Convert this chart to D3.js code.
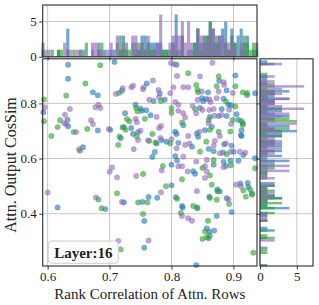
<!DOCTYPE html>
<html>
<head>
<meta charset="utf-8">
<script src="https://cdn.jsdelivr.net/npm/d3@7"></script>
<style>
  body { margin: 0; background: #fff; }
  svg { display: block; }
  text { font-family: "Liberation Serif", "DejaVu Serif", serif; fill: #222; }
</style>
</head>
<body>
<div id="chart"></div>
<script>
// [x, y] = [rank correlation, output cos sim]
var bluePts = [
  [0.633,0.940],[0.708,0.950],[0.633,0.889],[0.673,0.840],[0.681,0.829],[0.720,0.846],[0.760,0.872],
  [0.593,0.768],[0.632,0.741],[0.633,0.717],[0.681,0.702],[0.701,0.704],[0.657,0.641],[0.718,0.674],
  [0.723,0.714],[0.735,0.711],[0.725,0.764],[0.742,0.795],[0.750,0.781],[0.752,0.773],[0.759,0.775],
  [0.738,0.689],[0.746,0.696],[0.766,0.757],[0.776,0.655],[0.773,0.624],[0.769,0.606],[0.771,0.809],
  [0.781,0.836],[0.808,0.940],[0.877,0.882],[0.903,0.901],[0.859,0.840],[0.889,0.847],[0.922,0.830],
  [0.935,0.837],[0.849,0.819],[0.851,0.809],[0.856,0.816],[0.884,0.817],[0.892,0.795],[0.896,0.793],
  [0.789,0.813],[0.846,0.783],[0.881,0.779],[0.819,0.721],[0.862,0.751],[0.876,0.754],[0.889,0.754],
  [0.905,0.761],[0.908,0.740],[0.915,0.728],[0.912,0.685],[0.865,0.715],[0.854,0.703],[0.806,0.697],
  [0.808,0.689],[0.841,0.691],[0.843,0.679],[0.784,0.667],[0.792,0.661],[0.811,0.657],[0.833,0.643],
  [0.885,0.652],[0.897,0.647],[0.860,0.635],[0.868,0.627],[0.883,0.622],[0.900,0.625],[0.806,0.609],
  [0.809,0.594],[0.884,0.588],[0.895,0.592],[0.908,0.592],[0.800,0.578],[0.868,0.578],[0.888,0.573],
  [0.835,0.554],[0.838,0.545],[0.800,0.503],[0.874,0.488],[0.878,0.481],[0.923,0.512],[0.924,0.497],
  [0.807,0.460],[0.861,0.462],[0.889,0.456],[0.817,0.428],[0.897,0.406],[0.777,0.458],[0.763,0.461],
  [0.753,0.443],[0.818,0.423],[0.841,0.423],[0.857,0.347],[0.861,0.335],[0.869,0.339],[0.860,0.311],
  [0.756,0.374],[0.756,0.277],[0.840,0.214],[0.616,0.423],[0.723,0.441],[0.693,0.417],[0.913,0.703],
  [0.913,0.682],[0.916,0.613],[0.935,0.601],[0.911,0.510],[0.930,0.474],[0.873,0.392]
];
var purplePts = [
  [0.710,0.834],[0.721,0.855],[0.735,0.858],[0.738,0.864],[0.754,0.851],[0.755,0.858],[0.770,0.883],
  [0.779,0.849],[0.780,0.822],[0.595,0.786],[0.636,0.780],[0.628,0.759],[0.677,0.786],[0.682,0.795],
  [0.685,0.783],[0.627,0.728],[0.630,0.725],[0.670,0.739],[0.673,0.725],[0.699,0.707],[0.646,0.696],
  [0.651,0.634],[0.742,0.744],[0.744,0.732],[0.750,0.701],[0.746,0.667],[0.776,0.751],[0.762,0.666],
  [0.780,0.711],[0.783,0.718],[0.739,0.634],[0.782,0.675],[0.764,0.813],[0.799,0.946],[0.804,0.942],
  [0.866,0.947],[0.809,0.899],[0.846,0.898],[0.884,0.877],[0.885,0.867],[0.803,0.858],[0.819,0.859],
  [0.827,0.858],[0.849,0.843],[0.876,0.843],[0.899,0.838],[0.798,0.837],[0.806,0.805],[0.811,0.795],
  [0.842,0.812],[0.861,0.814],[0.863,0.805],[0.873,0.819],[0.834,0.791],[0.850,0.776],[0.861,0.776],
  [0.868,0.780],[0.811,0.773],[0.893,0.777],[0.819,0.764],[0.822,0.749],[0.840,0.764],[0.869,0.755],
  [0.881,0.758],[0.896,0.725],[0.860,0.728],[0.878,0.682],[0.827,0.682],[0.845,0.697],[0.800,0.670],
  [0.808,0.637],[0.829,0.655],[0.822,0.649],[0.870,0.664],[0.868,0.647],[0.888,0.655],[0.878,0.619],
  [0.895,0.625],[0.910,0.625],[0.919,0.621],[0.819,0.607],[0.840,0.589],[0.857,0.595],[0.784,0.557],
  [0.811,0.572],[0.817,0.572],[0.854,0.572],[0.884,0.569],[0.826,0.553],[0.857,0.553],[0.854,0.530],
  [0.904,0.505],[0.912,0.500],[0.783,0.478],[0.892,0.452],[0.743,0.537],[0.841,0.482],[0.817,0.392],
  [0.827,0.384],[0.833,0.375],[0.763,0.303],[0.700,0.552],[0.704,0.568],[0.712,0.532],[0.720,0.443],
  [0.678,0.459],[0.600,0.477],[0.714,0.302]
];
var greenPts = [
  [0.685,0.938],[0.661,0.872],[0.630,0.828],[0.715,0.838],[0.594,0.814],[0.594,0.735],[0.620,0.739],
  [0.616,0.714],[0.664,0.707],[0.606,0.682],[0.642,0.696],[0.652,0.628],[0.714,0.649],[0.716,0.680],
  [0.721,0.713],[0.726,0.704],[0.728,0.743],[0.732,0.735],[0.743,0.783],[0.745,0.771],[0.757,0.744],
  [0.744,0.680],[0.769,0.689],[0.764,0.664],[0.774,0.658],[0.783,0.809],[0.827,0.909],[0.876,0.898],
  [0.903,0.862],[0.840,0.867],[0.842,0.849],[0.843,0.840],[0.873,0.862],[0.915,0.840],[0.888,0.807],
  [0.903,0.789],[0.838,0.779],[0.800,0.783],[0.800,0.766],[0.817,0.731],[0.899,0.740],[0.895,0.698],
  [0.860,0.740],[0.862,0.704],[0.876,0.697],[0.798,0.655],[0.856,0.661],[0.889,0.616],[0.846,0.625],
  [0.868,0.595],[0.786,0.573],[0.850,0.566],[0.896,0.576],[0.862,0.539],[0.791,0.500],[0.865,0.505],
  [0.874,0.481],[0.916,0.484],[0.927,0.488],[0.930,0.469],[0.862,0.457],[0.893,0.435],[0.873,0.451],
  [0.920,0.462],[0.835,0.428],[0.842,0.420],[0.815,0.403],[0.754,0.544],[0.817,0.525],[0.761,0.441],
  [0.746,0.441],[0.809,0.454],[0.754,0.399],[0.859,0.375],[0.854,0.336],[0.850,0.309],[0.857,0.315],
  [0.862,0.321],[0.712,0.474],[0.682,0.452],[0.687,0.420],[0.718,0.271],[0.913,0.736],[0.915,0.722],
  [0.922,0.838],[0.935,0.565],[0.932,0.259]
];
var seriesColors = ["#1f77b4", "#2ca02c", "#9467bd"];
var xTicks = [0.6, 0.7, 0.8, 0.9];
var yTicks = [0.4, 0.6, 0.8];
var countTicks = [0, 5];
var layerLabel = "Layer:16";
var xLabel = "Rank Correlation of Attn. Rows";
var yLabel = "Attn. Output CosSim";

function init() {
    var w = 319, h = 305;
    var series = [bluePts, greenPts, purplePts];

    var svg = d3.select("#chart").append("svg")
        .attr("width", w)
        .attr("height", h);

    // main scatter area
    var x = d3.scaleLinear().domain([0.592, 0.938]).range([42.7, 257]);
    var y = d3.scaleLinear().domain([0.2108, 0.9615]).range([266, 58.8]);
    // marginal count scales
    var topY = d3.scaleLinear().domain([0, 7.34]).range([56.8, 5]);
    var rightX = d3.scaleLinear().domain([0, 7.2]).range([260, 313]);

    var gridColor = "#b8b8b8";

    // grids
    var grid = svg.append("g").attr("stroke", gridColor).attr("stroke-width", 0.8);
    xTicks.forEach(function(t) {
        grid.append("line").attr("x1", x(t)).attr("x2", x(t)).attr("y1", y.range()[0]).attr("y2", y.range()[1]);
        grid.append("line").attr("x1", x(t)).attr("x2", x(t)).attr("y1", topY.range()[0]).attr("y2", topY.range()[1]);
    });
    yTicks.forEach(function(t) {
        grid.append("line").attr("x1", x.range()[0]).attr("x2", x.range()[1]).attr("y1", y(t)).attr("y2", y(t));
        grid.append("line").attr("x1", rightX.range()[0]).attr("x2", rightX.range()[1]).attr("y1", y(t)).attr("y2", y(t));
    });
    countTicks.forEach(function(t) {
        grid.append("line").attr("x1", x.range()[0]).attr("x2", x.range()[1]).attr("y1", topY(t)).attr("y2", topY(t));
        grid.append("line").attr("x1", rightX(t)).attr("x2", rightX(t)).attr("y1", y.range()[0]).attr("y2", y.range()[1]);
    });

    // marginal histograms
    var xBin = d3.bin().domain([0.59, 0.94]).thresholds(d3.range(0.59, 0.94, 0.005));
    var yBin = d3.bin().domain([0.2, 0.97]).thresholds(d3.range(0.2, 0.97, 0.009));

    series.forEach(function(pts, i) {
        var bx = xBin(pts.map(function(d) { return d[0]; }));
        svg.append("g").selectAll("rect")
            .data(bx.filter(function(b) { return b.length > 0; }))
            .enter()
            .append("rect")
            .attr("x", function(b) { return x(b.x0); })
            .attr("width", function(b) { return x(b.x1) - x(b.x0); })
            .attr("y", function(b) { return topY(b.length); })
            .attr("height", function(b) { return topY(0) - topY(b.length); })
            .attr("fill", seriesColors[i])
            .attr("fill-opacity", 0.65);

        var by = yBin(pts.map(function(d) { return d[1]; }));
        svg.append("g").selectAll("rect")
            .data(by.filter(function(b) { return b.length > 0; }))
            .enter()
            .append("rect")
            .attr("x", rightX(0))
            .attr("width", function(b) { return rightX(b.length) - rightX(0); })
            .attr("y", function(b) { return y(b.x1); })
            .attr("height", function(b) { return y(b.x0) - y(b.x1); })
            .attr("fill", seriesColors[i])
            .attr("fill-opacity", 0.65);
    });

    // scatter
    series.forEach(function(pts, i) {
        svg.append("g").selectAll("circle")
            .data(pts)
            .enter()
            .append("circle")
            .attr("cx", function(d) { return x(d[0]); })
            .attr("cy", function(d) { return y(d[1]); })
            .attr("r", 2.7)
            .attr("fill", seriesColors[i])
            .attr("fill-opacity", 0.6)
            .attr("stroke", seriesColors[i])
            .attr("stroke-opacity", 0.35)
            .attr("stroke-width", 0.8);
    });

    // axes
    function styleAxis(g) {
        g.select(".domain").remove();
        g.selectAll(".tick line").attr("stroke", "#222").attr("stroke-width", 0.9);
        g.selectAll(".tick text").style("font-size", "13px").attr("fill", "#222");
    }
    var fmt = d3.format(".1f");

    svg.append("g").attr("transform", "translate(0," + y.range()[0] + ")")
        .call(d3.axisBottom(x).tickValues(xTicks).tickSize(3.5).tickPadding(2.5).tickFormat(fmt))
        .call(styleAxis);
    svg.append("g").attr("transform", "translate(" + x.range()[0] + ",0)")
        .call(d3.axisLeft(y).tickValues(yTicks).tickSize(3.5).tickPadding(2.5).tickFormat(fmt))
        .call(styleAxis);
    svg.append("g").attr("transform", "translate(" + x.range()[0] + ",0)")
        .call(d3.axisLeft(topY).tickValues(countTicks).tickSize(3.5).tickPadding(2.5).tickFormat(d3.format("d")))
        .call(styleAxis);
    svg.append("g").attr("transform", "translate(0," + y.range()[0] + ")")
        .call(d3.axisBottom(rightX).tickValues(countTicks).tickSize(3.5).tickPadding(2.5).tickFormat(d3.format("d")))
        .call(styleAxis);
    svg.append("g").attr("transform", "translate(" + rightX.range()[0] + ",0)")
        .call(d3.axisLeft(y).tickValues(yTicks).tickSize(3.5).tickFormat(""))
        .call(styleAxis);
    svg.append("g").attr("transform", "translate(0," + topY.range()[0] + ")")
        .call(d3.axisBottom(x).tickValues(xTicks).tickSize(3.5).tickFormat(""))
        .call(styleAxis);

    // spines
    var frames = [
        [x.range()[0], y.range()[1], x.range()[1], y.range()[0]],
        [x.range()[0], topY.range()[1], x.range()[1], topY.range()[0]],
        [rightX.range()[0], y.range()[1], rightX.range()[1], y.range()[0]]
    ];
    svg.append("g").selectAll("rect")
        .data(frames)
        .enter()
        .append("rect")
        .attr("x", function(d) { return d[0]; })
        .attr("y", function(d) { return d[1]; })
        .attr("width", function(d) { return d[2] - d[0]; })
        .attr("height", function(d) { return d[3] - d[1]; })
        .attr("fill", "none")
        .attr("stroke", "#2a2a2a")
        .attr("stroke-width", 1.1);

    // labels
    svg.append("text")
        .attr("x", (x.range()[0] + x.range()[1]) / 2)
        .attr("y", 298.5)
        .attr("text-anchor", "middle")
        .style("font-size", "15px")
        .text(xLabel);
    svg.append("text")
        .attr("transform", "translate(16," + 165 + ") rotate(-90)")
        .attr("text-anchor", "middle")
        .style("font-size", "16px")
        .text(yLabel);

    // layer box
    var box = svg.append("g");
    box.append("rect")
        .attr("x", 48.3).attr("y", 241)
        .attr("width", 70).attr("height", 22.3)
        .attr("rx", 3.5)
        .attr("fill", "#fff").attr("fill-opacity", 0.85)
        .attr("stroke", "#cccccc").attr("stroke-width", 1);
    box.append("text")
        .attr("x", 83.3).attr("y", 257.5)
        .attr("text-anchor", "middle")
        .style("font-size", "15px")
        .style("font-weight", "bold")
        .text(layerLabel);
}

window.onload = init;
</script>
</body>
</html>
